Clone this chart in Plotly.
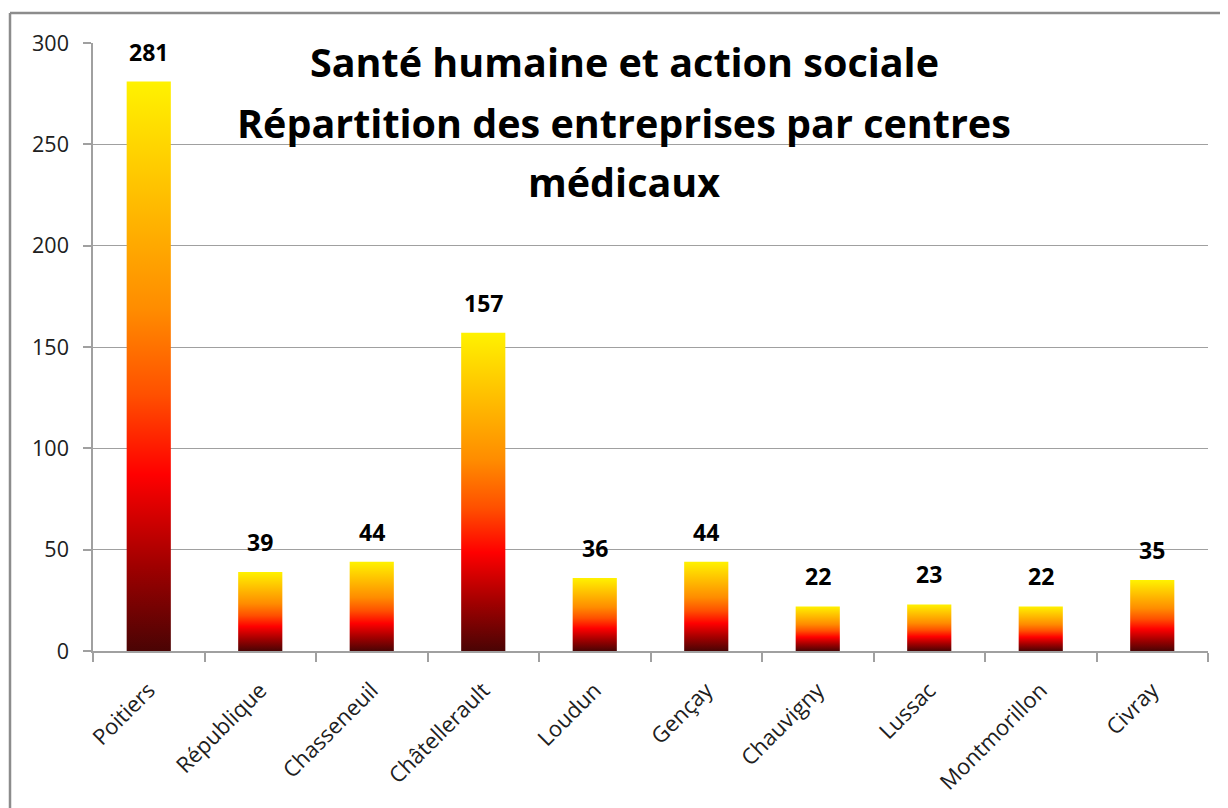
import plotly.graph_objects as go

categories = ["Poitiers", "République", "Chasseneuil", "Châtellerault", "Loudun",
              "Gençay", "Chauvigny", "Lussac", "Montmorillon", "Civray"]
values = [281, 39, 44, 157, 36, 44, 22, 23, 22, 35]
y_ticks = [0, 50, 100, 150, 200, 250, 300]
title_lines = ["Santé humaine et action sociale",
               "Répartition des entreprises par centres",
               "médicaux"]

gradient = [[0.0, "#4a0404"], [0.15, "#a00000"], [0.31, "#ff0000"],
            [0.45, "#ff5000"], [0.6, "#ff8c00"], [0.8, "#ffbf00"], [1.0, "#fff200"]]

# figure geometry (page has an 8px body margin)
W, H = 1220, 800
L, R, T, B = 85, 20, 35, 157
PW, PH = W - L - R, H - T - B


def px_x(x):
    return (x - L) / PW


def px_y(y):
    return (H - B - y) / PH


half = 0.198
fig = go.Figure()

# gradient-filled bars
for i, v in enumerate(values):
    fig.add_trace(go.Scatter(
        x=[i - half, i + half, i + half, i - half, i - half],
        y=[0, 0, v, v, 0],
        mode="lines", line=dict(width=0, color="rgba(0,0,0,0)"),
        fill="toself",
        fillgradient=dict(type="vertical", colorscale=gradient, start=0, stop=v),
        showlegend=False, hovertemplate=f"{categories[i]}: {v}<extra></extra>",
    ))
    # value label
    fig.add_annotation(
        x=i, y=v, xref="x", yref="y", text=str(v), showarrow=False,
        yanchor="bottom", xanchor="center", yshift=12,
        font=dict(family="Open Sans", size=23, color="#000000", weight="bold"),
    )

for line, yc in zip(title_lines, [54, 115, 174]):
    fig.add_annotation(
        text=line, xref="paper", yref="paper",
        x=px_x(616), y=px_y(yc), yanchor="middle", xanchor="center",
        showarrow=False, align="center",
        font=dict(family="Open Sans", size=39.5, color="#000000", weight="bold"),
    )

# outer frame (top and left edges)
fig.add_shape(type="line", xref="paper", yref="paper",
              x0=px_x(2), x1=px_x(W + 20), y0=px_y(5), y1=px_y(5),
              line=dict(color="#8c8c8c", width=2.5))
fig.add_shape(type="line", xref="paper", yref="paper",
              x0=px_x(2), x1=px_x(2), y0=px_y(5), y1=px_y(H + 20),
              line=dict(color="#8c8c8c", width=2.5))

fig.update_layout(
    width=W, height=H,
    margin=dict(l=L, r=R, t=T, b=B),
    paper_bgcolor="white", plot_bgcolor="white",
    showlegend=False,
    xaxis=dict(
        range=[-0.5, len(categories) - 0.5],
        tickmode="array", tickvals=list(range(len(categories))), ticktext=categories,
        tickangle=-45, ticks="", showgrid=False, zeroline=False,
        showline=True, linecolor="#a0a0a0", linewidth=1.5,
        ticklabelstandoff=16,
        tickfont=dict(family="Open Sans", size=22, color="#202020"),
        minor=dict(tickmode="array", tickvals=[k - 0.5 for k in range(len(categories) + 1)],
                   ticks="outside", ticklen=9, tickcolor="#a0a0a0", tickwidth=1.5, showgrid=False),
        fixedrange=True,
    ),
    yaxis=dict(
        range=[0, 300], tickmode="array", tickvals=y_ticks,
        ticks="outside", ticklen=8, tickcolor="#a0a0a0", tickwidth=1.5,
        showline=True, linecolor="#a0a0a0", linewidth=1.5,
        showgrid=True, gridcolor="#a0a0a0", gridwidth=1.2, zeroline=False,
        ticklabelstandoff=10,
        tickfont=dict(family="Open Sans", size=21.5, color="#202020"),
        fixedrange=True,
    ),
)

fig.write_html("out.html")
